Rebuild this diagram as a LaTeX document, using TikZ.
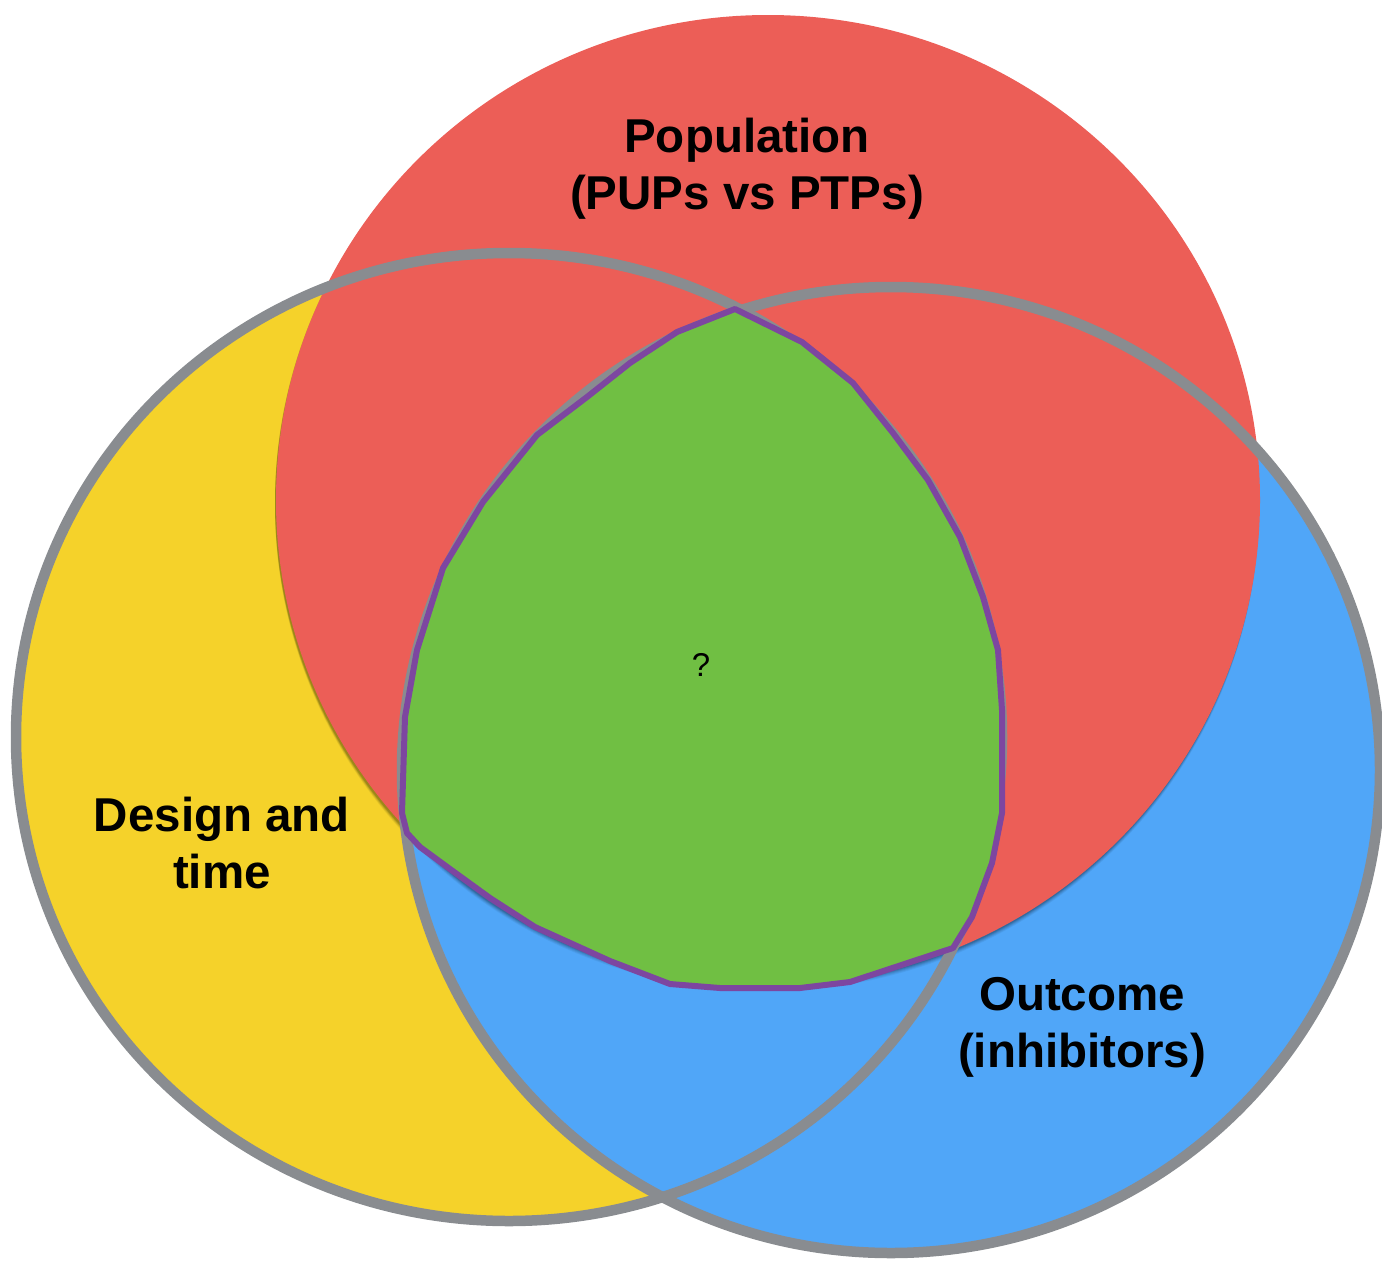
\documentclass[tikz,border=0pt]{standalone}
\usepackage{fontspec}
\setmainfont{Liberation Sans}
\begin{document}
\definecolor{popred}{RGB}{236,94,87}
\definecolor{designyellow}{RGB}{245,210,42}
\definecolor{outcomeblue}{RGB}{80,166,248}
\definecolor{coregreen}{RGB}{112,191,67}
\definecolor{rimgray}{RGB}{137,140,144}
\definecolor{corepurple}{RGB}{125,70,160}
\begin{tikzpicture}[x=1pt,y=-1pt,
  rim/.style={draw=rimgray,line width=10.5pt},
  setlabel/.style={align=center,font=\bfseries\fontsize{47.5}{57}\selectfont,inner sep=0pt},
  corelabel/.style={font=\fontsize{33}{40}\selectfont,inner sep=0pt}]
\useasboundingbox (0,0) rectangle (1382,1262);
% fills of the two lower sets
\fill[designyellow] (509,737) ellipse [x radius=493pt, y radius=484pt];
\fill[outcomeblue] (891,770) ellipse [x radius=489pt, y radius=483pt];
% soft shadow under the population set
\foreach \d/\o in {6/0.05,5/0.06,4/0.08,3/0.10,2/0.12}
  \fill[black,opacity=\o] (767,500+\d) ellipse [x radius=492pt, y radius=485pt];
\fill[popred] (768,500) ellipse [x radius=492pt, y radius=485pt];
% outlines of the lower sets
\draw[rim] (509,737) ellipse [x radius=493pt, y radius=484pt];
\draw[rim] (891,770) ellipse [x radius=489pt, y radius=483pt];
% common core of all three sets
\filldraw[fill=coregreen,draw=corepurple,line width=6pt,line join=round]
  (735,309) -- (802,342) -- (853,383) -- (893,433) -- (928,480) -- (960,537)
  -- (983,597) -- (998,650) -- (1002,710) -- (1002,813) -- (992,863)
  -- (972,917) -- (953,948) -- (850,982) -- (800,988) -- (720,988)
  -- (670,984) -- (610,961) -- (535,927) -- (490,898) -- (450,869)
  -- (420,847) -- (407,833) -- (402,813) -- (405,717) -- (417,650)
  -- (443,568) -- (483,502) -- (537,435) -- (587,397) -- (630,363)
  -- (677,332) -- cycle;
% labels
\node[setlabel] (population) at (747,169) {Population\\(PUPs vs PTPs)};
\node[setlabel] (design) at (222,843) {Design and\\time};
\node[setlabel] (outcome) at (1082,1027) {Outcome\\(inhibitors)};
\node[corelabel] (core) at (701,665) {?};
\end{tikzpicture}
\end{document}
